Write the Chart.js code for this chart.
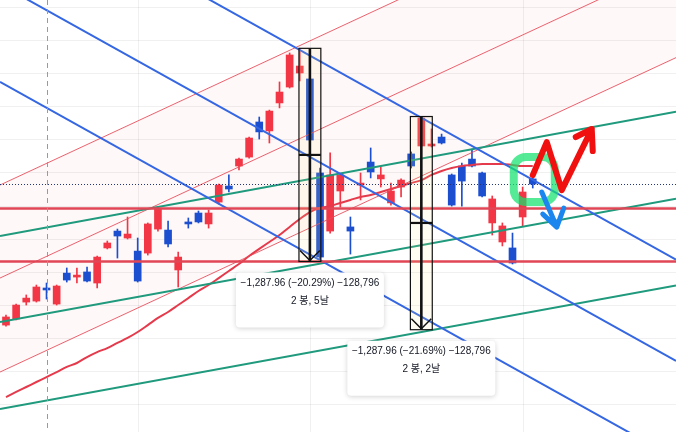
<!DOCTYPE html>
<html>
<head>
<meta charset="utf-8">
<script src="https://cdn.jsdelivr.net/npm/chart.js@4.4.1/dist/chart.umd.min.js"></script>
<style>
    html, body { margin: 0; padding: 0; background: #ffffff; }
    #wrap { width: 676px; height: 432px; }
</style>
</head>
<body>
<div id="wrap"><canvas id="chart" width="676" height="432"></canvas></div>
<script>
    // candles, one per bar (index = position on the x axis)
    var OPEN  = [4678, 4715, 4817, 4823, 4902, 4805, 4992, 4968, 4999, 4932,
                 5144, 5246, 5204, 5125, 5113, 5258, 5252, 5011, 5301, 5355,
                 5289, 5421, 5518, 5639, 5693, 5905, 5851, 6020, 6116, 6201,
                 6165, 5597, 5246, 5488, 5271, 5524, 5663, 5561, 5416, 5512,
                 5712, 5760, 5760, 5814, 5585, 5639, 5681, 5597, 5295, 5180,
                 5144, 5331, 5561];
    var HIGH  = [4739, 4805, 4860, 4920, 4932, 4920, 5023, 5023, 5029, 5095,
                 5186, 5258, 5331, 5204, 5295, 5385, 5307, 5119, 5325, 5367,
                 5373, 5530, 5585, 5687, 5814, 5935, 5977, 6147, 6322, 6346,
                 6207, 5627, 5718, 5591, 5331, 5597, 5748, 5633, 5536, 5561,
                 5724, 5935, 5863, 5832, 5591, 5657, 5742, 5603, 5458, 5295,
                 5234, 5512, 5573];
    var LOW   = [4672, 4709, 4799, 4817, 4835, 4799, 4938, 4932, 4938, 4902,
                 5138, 5083, 5198, 4938, 5101, 5246, 5150, 4908, 5264, 5295,
                 5264, 5409, 5482, 5615, 5687, 5802, 5778, 5990, 6110, 6153,
                 5778, 5077, 5234, 5391, 5107, 5434, 5567, 5512, 5403, 5452,
                 5627, 5754, 5754, 5772, 5397, 5397, 5633, 5452, 5222, 5156,
                 5047, 5277, 5506];
    var CLOSE = [4727, 4799, 4841, 4908, 4890, 4914, 4950, 4980, 4944, 5089,
                 5174, 5216, 5228, 4944, 5289, 5379, 5168, 5089, 5289, 5301,
                 5355, 5524, 5500, 5681, 5808, 5845, 5971, 6086, 6310, 6243,
                 5796, 5089, 5585, 5585, 5246, 5536, 5603, 5585, 5488, 5554,
                 5639, 5929, 5772, 5778, 5403, 5548, 5639, 5458, 5440, 5277,
                 5053, 5482, 5530];
    // moving average
    var MA    = [4243, 4274, 4304, 4334, 4364, 4394, 4425, 4449, 4485, 4515,
                 4539, 4570, 4600, 4636, 4678, 4721, 4757, 4799, 4841, 4884,
                 4920, 4962, 5005, 5047, 5095, 5138, 5180, 5222, 5271, 5319,
                 5361, 5385, 5397, 5416, 5434, 5452, 5464, 5482, 5500, 5518,
                 5536, 5554, 5585, 5609, 5627, 5639, 5645, 5651, 5651, 5651,
                 5645, 5639, 5639];

    // drawings: [barA, priceA, barB, priceB], extended both ways
    var RED_LINES   = [[0, 5541, 60, 7249], [0, 4979, 60, 6687], [0, 4411, 60, 6119]];
    var GREEN_LINES = [[0, 5223, 60, 5898], [0, 4703, 60, 5373], [0, 4177, 60, 4848]];
    var BLUE_LINES  = [[0, 7329, 60, 5283], [0, 6717, 60, 4671], [0, 6127, 60, 4081]];
    var H_LINES     = [5382, 5062];
    var V_MARK      = 4;
    var TIME_GRID   = [13, 30, 51];
    var PRICE_GRID  = [4200, 4400, 4600, 4800, 5000, 5200, 5400, 5600, 5800, 6000, 6200, 6400, 6600];
    var MEASURES = [
        { bar: 30, top: 6350, bottom: 5062, mid: 5706, text: "\u22121,287.96 (\u221220.29%) \u2212128,796", sub: "2 \uBD09, 5\uB0A0" },
        { bar: 41, top: 5938, bottom: 4650, mid: 5295, text: "\u22121,287.96 (\u221221.69%) \u2212128,796", sub: "2 \uBD09, 2\uB0A0" }
    ];

    var UP = "#f23645";
    var DOWN = "#1c4fd0";
    var FONT = '"Liberation Sans", "Noto Sans CJK KR", sans-serif';

    var colors = OPEN.map(function(o, i) { return CLOSE[i] >= o ? UP : DOWN; });
    var bodies = OPEN.map(function(o, i) { return { x: i, y: [o, CLOSE[i]] }; });
    var wicks = LOW.map(function(l, i) { return { x: i, y: [l, HIGH[i]] }; });
    var maPoints = MA.map(function(v, i) { return { x: i, y: v }; });

    function extend(chart, line) {
        var xs = chart.scales.x, ys = chart.scales.y, a = chart.chartArea;
        var x1 = xs.getPixelForValue(line[0]), y1 = ys.getPixelForValue(line[1]);
        var x2 = xs.getPixelForValue(line[2]), y2 = ys.getPixelForValue(line[3]);
        var m = (y2 - y1) / (x2 - x1);
        return [a.left, y1 + m * (a.left - x1), a.right, y1 + m * (a.right - x1)];
    }

    function strokeLines(ctx, chart, lines, color, width) {
        ctx.strokeStyle = color;
        ctx.lineWidth = width;
        lines.forEach(function(l) {
            var p = extend(chart, l);
            ctx.beginPath();
            ctx.moveTo(p[0], p[1]);
            ctx.lineTo(p[2], p[3]);
            ctx.stroke();
        });
    }

    function roundRect(ctx, x, y, w, h, r) {
        ctx.beginPath();
        ctx.moveTo(x + r, y);
        ctx.arcTo(x + w, y, x + w, y + h, r);
        ctx.arcTo(x + w, y + h, x, y + h, r);
        ctx.arcTo(x, y + h, x, y, r);
        ctx.arcTo(x, y, x + w, y, r);
        ctx.closePath();
    }

    var overlay = {
        id: "overlay",
        beforeDatasetsDraw: function(chart) {
            var ctx = chart.ctx, a = chart.chartArea;
            var xs = chart.scales.x, ys = chart.scales.y;
            var up = extend(chart, RED_LINES[0]);
            var lo = extend(chart, RED_LINES[2]);
            ctx.save();
            ctx.fillStyle = "#ffffff";
            ctx.fillRect(0, 0, chart.width, chart.height);
            ctx.beginPath();
            ctx.moveTo(up[0], up[1]);
            ctx.lineTo(up[2], up[3]);
            ctx.lineTo(lo[2], lo[3]);
            ctx.lineTo(lo[0], lo[1]);
            ctx.closePath();
            ctx.fillStyle = "rgba(242,54,69,0.035)";
            ctx.fill();

            // grid
            ctx.strokeStyle = "rgba(42,46,57,0.07)";
            ctx.lineWidth = 1;
            PRICE_GRID.forEach(function(v) {
                var y = Math.round(ys.getPixelForValue(v)) + 0.5;
                ctx.beginPath();
                ctx.moveTo(a.left, y);
                ctx.lineTo(a.right, y);
                ctx.stroke();
            });
            TIME_GRID.forEach(function(v) {
                var x = Math.round(xs.getPixelForValue(v)) + 0.5;
                ctx.beginPath();
                ctx.moveTo(x, a.top);
                ctx.lineTo(x, a.bottom);
                ctx.stroke();
            });
            ctx.restore();
        },
        afterDatasetsDraw: function(chart) {
            var ctx = chart.ctx, a = chart.chartArea;
            var xs = chart.scales.x, ys = chart.scales.y;
            ctx.save();
            ctx.beginPath();
            ctx.rect(a.left, a.top, a.width, a.height);
            ctx.clip();

            strokeLines(ctx, chart, RED_LINES, "rgba(232,70,85,0.85)", 1);
            strokeLines(ctx, chart, GREEN_LINES, "#1f9a7c", 2);
            strokeLines(ctx, chart, BLUE_LINES, "#3567e2", 2);

            // horizontal levels
            ctx.strokeStyle = "#e04655";
            ctx.lineWidth = 2.6;
            H_LINES.forEach(function(v) {
                var y = ys.getPixelForValue(v);
                ctx.beginPath();
                ctx.moveTo(a.left, y);
                ctx.lineTo(a.right, y);
                ctx.stroke();
            });

            // last price line
            var last = CLOSE[CLOSE.length - 1];
            var ly = Math.round(ys.getPixelForValue(last)) + 0.5;
            ctx.strokeStyle = "#24367a";
            ctx.lineWidth = 1;
            ctx.setLineDash([1, 2]);
            ctx.beginPath();
            ctx.moveTo(a.left, ly);
            ctx.lineTo(a.right, ly);
            ctx.stroke();

            // vertical marker
            var vx = Math.round(xs.getPixelForValue(V_MARK)) + 0.5;
            ctx.strokeStyle = "#9a9a9a";
            ctx.setLineDash([5, 4]);
            ctx.beginPath();
            ctx.moveTo(vx, a.top);
            ctx.lineTo(vx, a.bottom);
            ctx.stroke();
            ctx.setLineDash([]);

            // measure boxes
            MEASURES.forEach(function(m) {
                var cx = xs.getPixelForValue(m.bar);
                var l = xs.getPixelForValue(m.bar - 1.08), r = xs.getPixelForValue(m.bar + 1.08);
                var t = ys.getPixelForValue(m.top), b = ys.getPixelForValue(m.bottom);
                var md = ys.getPixelForValue(m.mid);
                ctx.fillStyle = "rgba(255,236,150,0.12)";
                ctx.fillRect(l, t, r - l, b - t);
                ctx.strokeStyle = "#111111";
                ctx.lineWidth = 1.2;
                ctx.strokeRect(l, t, r - l, b - t);
                ctx.lineWidth = 2.2;
                ctx.beginPath();
                ctx.moveTo(l, md);
                ctx.lineTo(r, md);
                ctx.stroke();
                ctx.lineWidth = 2.6;
                ctx.beginPath();
                ctx.moveTo(cx, t);
                ctx.lineTo(cx, b);
                ctx.stroke();
                ctx.lineWidth = 1.5;
                ctx.beginPath();
                ctx.moveTo(l + 1, b - 11);
                ctx.lineTo(cx, b - 1);
                ctx.lineTo(r - 1, b - 11);
                ctx.stroke();
            });

            // measure labels
            MEASURES.forEach(function(m) {
                var cx = xs.getPixelForValue(m.bar);
                var b = ys.getPixelForValue(m.bottom);
                var w = 148, h = 55, top = b + 11;
                ctx.save();
                ctx.shadowColor = "rgba(0,0,0,0.18)";
                ctx.shadowBlur = 5;
                ctx.shadowOffsetY = 1;
                ctx.fillStyle = "#ffffff";
                roundRect(ctx, cx - w / 2, top, w, h, 4);
                ctx.fill();
                ctx.restore();
                ctx.fillStyle = "#131722";
                ctx.font = "10px " + FONT;
                ctx.textAlign = "center";
                ctx.textBaseline = "middle";
                ctx.fillText(m.text, cx, top + 10.5);
                ctx.fillText(m.sub, cx, top + 29);
            });

            // hand drawn marks around the last bar
            var n = CLOSE.length - 1;
            var bx = xs.getPixelForValue(n), by = ys.getPixelForValue(CLOSE[n]);
            ctx.lineCap = "round";
            ctx.lineJoin = "round";

            ctx.strokeStyle = "rgba(20,226,110,0.72)";
            ctx.lineWidth = 8;
            roundRect(ctx, bx - 19, by - 27, 41, 45, 12);
            ctx.stroke();

            ctx.strokeStyle = "#1b86ee";
            ctx.lineWidth = 5;
            ctx.beginPath();
            ctx.moveTo(bx + 9, by + 8);
            ctx.lineTo(bx + 24, by + 43);
            ctx.moveTo(bx + 10, by + 30);
            ctx.lineTo(bx + 24, by + 43);
            ctx.lineTo(bx + 31, by + 24);
            ctx.stroke();

            ctx.strokeStyle = "#f01010";
            ctx.lineWidth = 6;
            ctx.beginPath();
            ctx.moveTo(bx, by - 9);
            ctx.lineTo(bx + 14, by - 42);
            ctx.lineTo(bx + 29, by + 6);
            ctx.lineTo(bx + 59, by - 55);
            ctx.moveTo(bx + 43, by - 47);
            ctx.lineTo(bx + 59, by - 55);
            ctx.lineTo(bx + 60, by - 33);
            ctx.stroke();

            ctx.restore();
        }
    };

    new Chart(document.getElementById("chart"), {
        data: {
            datasets: [{
                type: "bar",
                data: wicks,
                backgroundColor: colors,
                barThickness: 1,
                grouped: false,
                order: 3
            }, {
                type: "bar",
                data: bodies,
                backgroundColor: colors,
                barThickness: 7,
                grouped: false,
                order: 2
            }, {
                type: "line",
                data: maPoints,
                borderColor: "#e53a4c",
                borderWidth: 2,
                pointRadius: 0,
                cubicInterpolationMode: "monotone",
                order: 1
            }]
        },
        options: {
            responsive: false,
            animation: false,
            devicePixelRatio: 1,
            layout: { padding: 0 },
            plugins: {
                legend: { display: false },
                tooltip: { enabled: false }
            },
            scales: {
                x: {
                    type: "linear",
                    display: false,
                    min: -0.592,
                    max: 66.14,
                    offset: false
                },
                y: {
                    display: false,
                    min: 4032,
                    max: 6642
                }
            }
        },
        plugins: [overlay]
    });
</script>
</body>
</html>
